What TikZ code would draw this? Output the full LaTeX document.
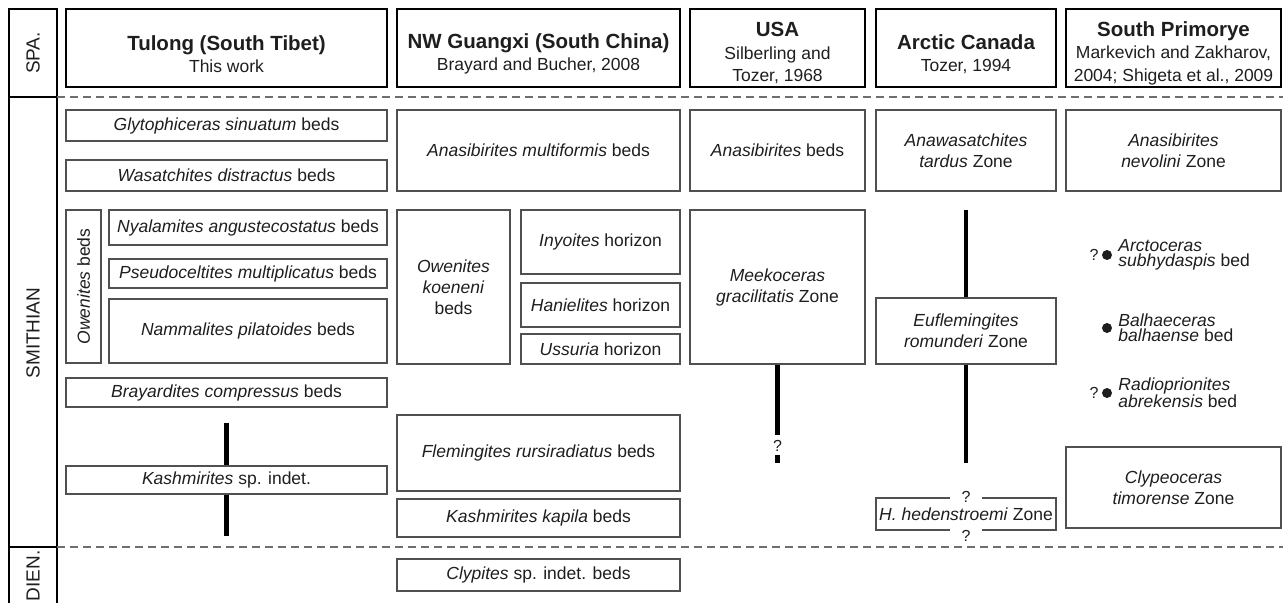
\documentclass[tikz,border=0pt]{standalone}
\usepackage{fontspec}
\setmainfont{Liberation Sans}
\usepackage{tikz}
\usetikzlibrary{positioning}

\definecolor{ink}{HTML}{1E1E1E}
\definecolor{edge}{HTML}{505050}
\definecolor{dashgray}{HTML}{6E6E6E}

\newcommand{\bodyfont}{\fontsize{17.5}{21}\selectfont}
\newcommand{\headfont}{\fontsize{20.5}{23}\selectfont\bfseries}

\tikzset{
  hdr/.style={draw=black, line width=2.6pt, minimum height=78pt, inner sep=0pt},
  hdrtext/.style={inner sep=0pt, align=center, text=ink, font=\fontsize{17.5}{22.5}\selectfont},
  bed/.style={draw=edge, line width=1.3pt, inner sep=0pt, align=center, text=ink, font=\bodyfont},
  stage/.style={rotate=90, inner sep=0pt, text=ink, font=\fontsize{19}{22}\selectfont},
  bar/.style={line width=4.6pt, black},
  qm/.style={inner sep=0pt, text=ink, font=\fontsize{16}{18}\selectfont},
  fossil/.style={circle, fill=ink, inner sep=0pt, minimum size=10pt},
  tag/.style={inner sep=0pt, align=left, text=ink, font=\fontsize{17.5}{15}\selectfont},
  zoneline/.style={dashgray, line width=1.2pt, dash pattern=on 8pt off 5pt}
}

\begin{document}
\begin{tikzpicture}[x=1pt, y=-1pt]
            \useasboundingbox (0,0) rectangle (1283,603);

            % Stage column
            \draw[line width=2pt] (9,603) -- (9,9) -- (57,9) -- (57,603);
            \draw[line width=2pt] (9,97) -- (57,97);
            \draw[line width=2pt] (9,547) -- (57,547);
            \node[stage] (spa) at (33,53) {SPA.};
            \node[stage] (smith) at (33,333) {SMITHIAN};
            \node[stage] (dien) at (33,576) {DIEN.};

            % Stage boundaries
            \draw[zoneline] (57,97) -- (1283,97);
            \draw[zoneline] (57,547) -- (1283,547);

            % Define headers
            \node[hdr, minimum width=321pt] (tulong) at (226.5,48) {};
            \node[hdr, minimum width=283pt] (guangxi) at (538.5,48) {};
            \node[hdr, minimum width=175pt] (usa) at (777.5,48) {};
            \node[hdr, minimum width=180pt] (arctic) at (966,48) {};
            \node[hdr, minimum width=215pt] (primorye) at (1173.5,48) {};
            \node[hdrtext] (tulongtxt) at ([yshift=-6pt]tulong.center) {{\headfont Tulong (South Tibet)}\\This work};
            \node[hdrtext] (guangxitxt) at ([yshift=-6pt]guangxi.center) {{\headfont NW Guangxi (South China)}\\Brayard and Bucher, 2008};
            \node[hdrtext] (usatxt) at ([yshift=-5pt]usa.center) {{\headfont USA}\\Silberling and\\Tozer, 1968};
            \node[hdrtext] (arctictxt) at ([yshift=-6pt]arctic.center) {{\headfont Arctic Canada}\\Tozer, 1994};
            \node[hdrtext] (primoryetxt) at ([yshift=-5pt]primorye.center) {{\headfont South Primorye}\\Markevich and Zakharov,\\2004; Shigeta et al., 2009};

            % Tulong
            \node[bed, minimum width=321pt, minimum height=31pt] (glyto) at (226.5,125.5) {\textit{Glytophiceras sinuatum} beds};
            \node[bed, minimum width=321pt, minimum height=31pt] (wasat) at (226.5,175.5) {\textit{Wasatchites distractus} beds};
            \node[bed, rotate=90, minimum width=153pt, minimum height=35pt] (owbeds) at (83.5,286.5) {\textit{Owenites} beds};
            \node[bed, minimum width=278pt, minimum height=35pt] (nyal) at (248,227.5) {\textit{Nyalamites angustecostatus} beds};
            \node[bed, minimum width=278pt, minimum height=29pt] (pseudo) at (248,273.5) {\textit{Pseudoceltites multiplicatus} beds};
            \node[bed, minimum width=278pt, minimum height=64pt] (namm) at (248,331) {\textit{Nammalites pilatoides} beds};
            \node[bed, minimum width=321pt, minimum height=29pt] (bray) at (226.5,392.5) {\textit{Brayardites compressus} beds};
            \node[bed, minimum width=321pt, minimum height=28pt] (kash) at (226.5,480) {\textit{Kashmirites} sp. indet.};

            % NW Guangxi
            \node[bed, minimum width=283pt, minimum height=81pt] (anamul) at (538.5,150.5) {\textit{Anasibirites multiformis} beds};
            \node[bed, minimum width=113pt, minimum height=154pt] (owkoe) at (453.5,287) {\textit{Owenites}\\\textit{koeneni}\\beds};
            \node[bed, minimum width=159pt, minimum height=64pt] (inyo) at (600.5,242) {\textit{Inyoites} horizon};
            \node[bed, minimum width=159pt, minimum height=44pt] (hani) at (600.5,305) {\textit{Hanielites} horizon};
            \node[bed, minimum width=159pt, minimum height=30pt] (ussu) at (600.5,349) {\textit{Ussuria} horizon};
            \node[bed, minimum width=283pt, minimum height=76pt] (flem) at (538.5,453) {\textit{Flemingites rursiradiatus} beds};
            \node[bed, minimum width=283pt, minimum height=38pt] (kapila) at (538.5,518) {\textit{Kashmirites kapila} beds};
            \node[bed, minimum width=283pt, minimum height=32pt] (clyp) at (538.5,575) {\textit{Clypites} sp. indet. beds};

            % USA
            \node[bed, minimum width=175pt, minimum height=81pt] (anabeds) at (777.5,150.5) {\textit{Anasibirites} beds};
            \node[bed, minimum width=175pt, minimum height=154pt] (meek) at (777.5,287) {\textit{Meekoceras}\\\textit{gracilitatis} Zone};

            % Arctic Canada
            \node[bed, minimum width=180pt, minimum height=81pt] (anaw) at (966,150.5) {\textit{Anawasatchites}\\\textit{tardus} Zone};
            \node[bed, minimum width=180pt, minimum height=66pt] (eufl) at (966,331) {\textit{Euflemingites}\\\textit{romunderi} Zone};
            \node[bed, minimum width=180pt, minimum height=32pt] (hed) at (966,514) {\textit{H. hedenstroemi} Zone};
            \node[qm, fill=white, inner xsep=12pt, inner ysep=1.5pt] (hedtop) at (966,497) {?};
            \node[qm, fill=white, inner xsep=12pt, inner ysep=2pt] (hedbot) at (966,536) {?};

            % South Primorye
            \node[bed, minimum width=215pt, minimum height=81pt] (nevo) at (1173.5,150.5) {\textit{Anasibirites}\\\textit{nevolini} Zone};
            \node[bed, minimum width=215pt, minimum height=81pt] (clypeo) at (1173.5,487.5) {\textit{Clypeoceras}\\\textit{timorense} Zone};
            \node[fossil] (arcto) at (1107,255) {};
            \node[fossil] (balh) at (1107,328) {};
            \node[fossil] (radio) at (1107,393) {};
            \node[qm, left=3pt of arcto] (arctoq) {?};
            \node[qm, left=3pt of radio] (radioq) {?};
            \node[tag, right=6pt of arcto] (arctotag) {\textit{Arctoceras}\\\textit{subhydaspis} bed};
            \node[tag, right=6pt of balh] (balhtag) {\textit{Balhaeceras}\\\textit{balhaense} bed};
            \node[tag, right=6pt of radio] (radiotag) {\textit{Radioprionites}\\\textit{abrekensis} bed};

            % Range bars
            \coordinate (tultop) at (226.5,423);
            \coordinate (tulbot) at (226.5,536);
            \draw[bar] (tultop) -- (kash.north);
            \draw[bar] (kash.south) -- (tulbot);
            \node[qm] (usaq) at (777.5,446) {?};
            \coordinate (usabot) at (777.5,463);
            \draw[bar, shorten >=5pt] (meek.south) -- (usaq.north);
            \draw[bar, shorten <=3pt] (usaq.south) -- (usabot);
            \coordinate (arctop) at (966,210);
            \coordinate (arcbot) at (966,463);
            \draw[bar] (arctop) -- (eufl.north);
            \draw[bar] (eufl.south) -- (arcbot);
        \end{tikzpicture}
\end{document}
